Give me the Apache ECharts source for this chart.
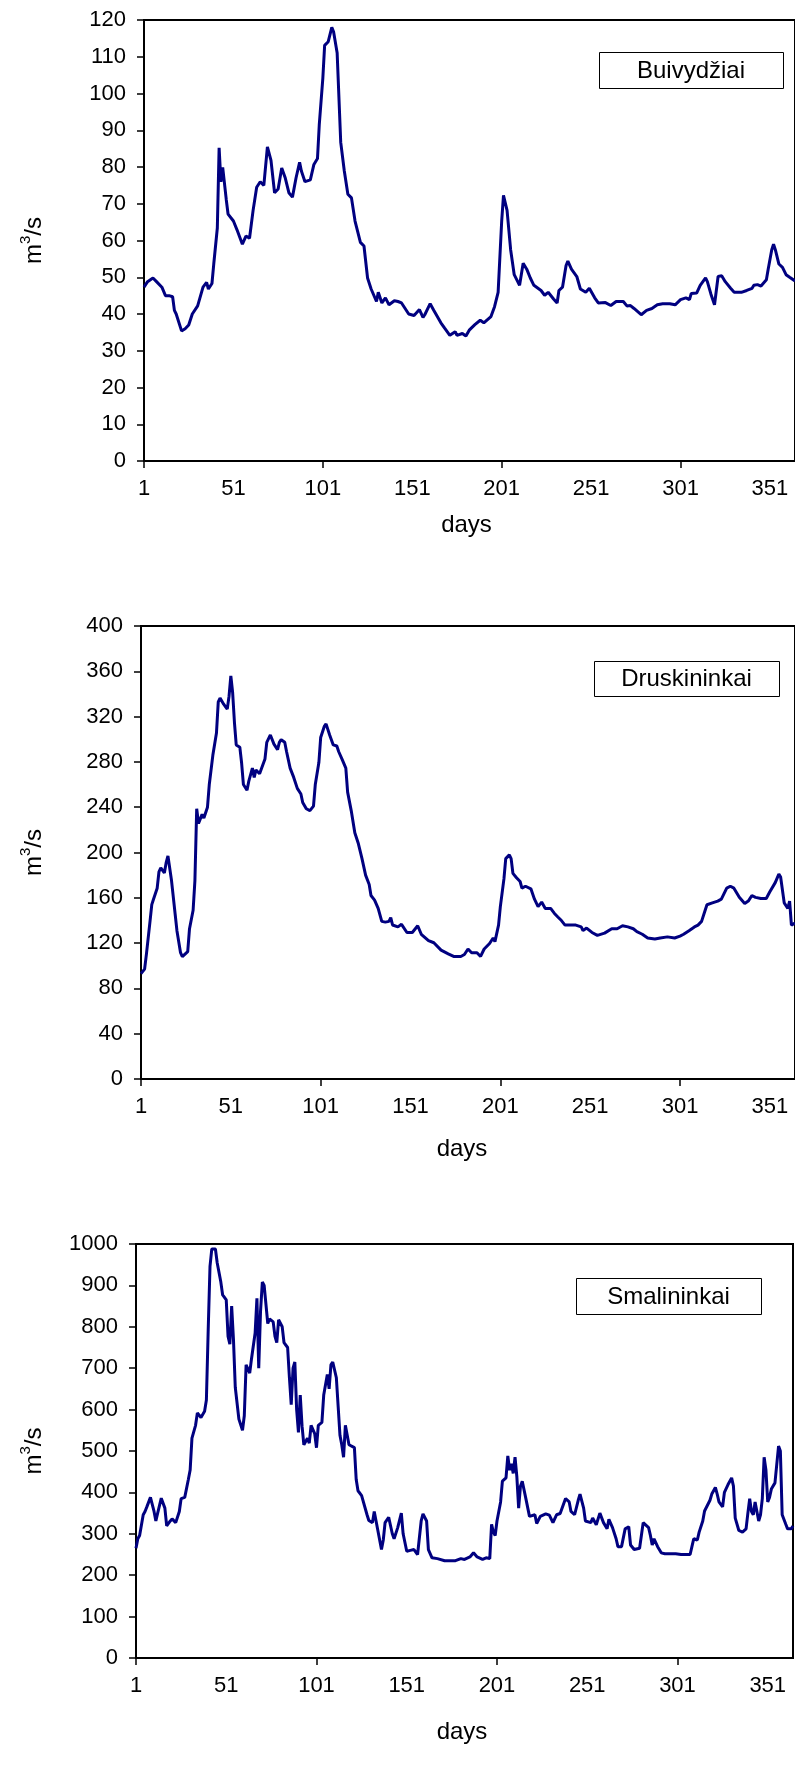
<!DOCTYPE html>
<html>
<head>
<meta charset="utf-8">
<script src="https://cdn.jsdelivr.net/npm/echarts@6/dist/echarts.min.js"></script>
<style>
  html, body { margin: 0; padding: 0; background: #fff; }
  #main { width: 795px; height: 1767px; }
</style>
</head>
<body>
<div id="main"></div>
<script>
const stations = ['Buivydžiai', 'Druskininkai', 'Smalininkai'];

const buivDays = [1,3,6,8,11,13,15,17,18,19,22,24,26,28,31,34,36,37,39,40,42,43,44,45,47,48,51,53,54,56,
  58,60,62,64,66,68,70,72,74,76,78,80,82,84,86,88,89,91,94,96,98,99,101,102,104,106,107,109,111,113,
  115,117,119,122,124,126,128,131,132,134,136,138,141,143,145,149,152,155,157,158,161,163,167,169,172,175,176,179,181,183,
  186,189,191,195,197,199,201,202,204,206,208,211,213,215,217,219,223,225,227,230,232,233,235,237,238,240,243,245,248,250,
  253,255,259,262,265,269,271,273,275,279,282,285,288,291,295,298,301,304,306,307,310,312,315,316,318,320,322,324,326,329,
  331,335,338,341,342,344,346,349,350,352,353,354,356,358,360,362,365];
const buivFlow = [47.3,48.8,49.8,48.8,47.3,45,45,44.7,41,40,35.4,36,37,40,42.2,47.3,48.6,46.8,48.3,53.6,
  63.4,85.2,76,79.9,71.1,67.2,65.3,62.9,63,59,61.2,60.6,68.2,74.5,76,75,85.5,81.8,73,74,
  79.7,77,73,71.8,77,81.3,78.9,76,76.5,80.7,82.3,91.5,104.2,113.1,114.1,118,116.8,111,86.7,78.9,
  72.6,71.6,65.3,59.5,58.5,49.8,46.8,43.4,45.9,43,44.4,42.5,43.6,43.4,43,40,39.6,41.2,39.1,39.8,
  42.8,41,37.6,36.2,34.2,35.2,34.2,34.7,34,35.7,37.1,38.3,37.6,39.3,42,45.9,65.3,72.3,68.2,57.5,
  50.7,47.8,53.8,52.2,49.8,47.8,46.4,45.1,45.9,44.1,43,46.4,47.3,53.2,54.4,52.2,50.2,46.8,45.9,47,
  44.4,43,43.1,42.3,43.4,43.4,42.2,42.3,41.5,39.8,41,41.5,42.5,42.8,42.8,42.5,43.9,44.4,43.9,45.6,
  45.7,47.8,49.8,48.8,45.4,42.5,50.2,50.4,48.8,47,45.9,45.9,46.4,47,47.8,48,47.6,49.3,52.2,57.5,
  59,57.5,53.6,52.7,50.7,50,49];

const druskDays = [1,3,4,6,7,8,10,11,12,14,15,16,18,20,21,23,24,27,28,30,31,32,33,35,36,38,39,41,43,44,
  45,47,49,50,51,52,53,54,56,57,58,60,61,63,64,65,67,68,70,71,73,74,75,77,78,79,81,82,84,86,
  88,90,91,93,95,97,98,100,101,103,104,106,108,110,111,113,115,116,118,120,122,124,126,128,129,131,133,135,137,139,
  140,141,144,146,149,152,155,157,161,164,168,172,175,179,181,183,185,188,190,192,195,197,198,200,201,203,204,206,207,208,
  210,212,213,215,218,220,222,224,226,229,231,233,235,237,239,243,246,247,249,252,255,259,263,266,269,272,275,277,280,283,
  287,290,294,298,301,303,306,309,311,313,315,316,319,322,324,327,329,331,334,337,339,341,343,346,349,351,354,356,357,359,
  361,362,363,365];
const druskFlow = [93,97,110,139,154,159,168.5,183,186.5,182,191,197,175,145.7,131,111.5,108,112.5,132.7,149,
  175,238.6,225.6,233.7,230.5,240,260,286,305.5,333,336.4,331,326.6,338,356,341.3,315,295,293,279,
  260,255,263,274.5,266.3,272.9,269.6,271.2,282.6,297.3,303.8,302.8,295.7,290.8,297.3,299.6,297.3,289.2,274.5,266.3,
  256.6,251.7,244.2,238.6,237,241,260,279.4,301.5,311.3,313.6,303.8,295,294,289.2,282,274.5,253.3,237,217.4,
  207.7,194.6,180,171.8,162,158,150.6,139.2,138.5,139.2,142.5,136,134.3,136.6,129.4,129.4,135.3,127.8,122.2,120.3,
  113.8,110.5,108.2,108.2,109.9,114.8,111.5,111.5,108.2,114.8,119.6,124.5,121.3,135.9,152.2,176.7,194.6,197.9,194.6,181.6,
  177.7,174.4,168.5,170.2,167.9,158.8,152.2,156.2,150.6,150.6,146.4,143.1,139.9,135.9,135.9,135.9,134.3,131,133.3,129.4,
  126.8,128.8,132.7,132.7,135.3,134.3,132.7,130.1,127.8,124.5,123.6,124.5,125.5,124.5,126.2,127.8,131,134.3,135.9,139.2,
  149,153.9,155.5,157.1,158.8,168.5,170.2,168.5,160.4,154.9,157.1,162,160.4,159.4,159.4,165.3,173.4,180.9,178.3,155.5,
  150.6,157.1,135.9,137.6];

const smalDays = [1,2,3,5,6,7,9,11,12,13,15,17,18,20,21,23,25,26,28,30,31,32,34,35,37,39,40,41,42,43,
  45,46,48,49,51,52,53,54,55,56,58,60,61,62,64,65,66,67,68,69,70,71,72,74,75,77,78,79,80,82,
  83,85,86,87,88,89,90,91,92,93,94,96,97,98,100,101,102,104,105,107,108,109,110,112,113,114,115,116,117,119,
  120,122,123,124,126,127,129,130,132,133,134,135,136,137,138,139,141,143,144,146,148,149,151,153,155,157,158,159,160,162,
  163,165,168,169,172,175,178,181,183,184,186,188,190,193,195,196,197,198,199,200,201,202,203,204,206,207,208,209,210,211,
  212,213,214,215,217,218,219,222,223,225,226,228,230,232,234,236,237,239,241,242,244,246,247,249,250,253,254,256,258,260,
  261,262,263,265,267,268,270,271,272,274,275,277,280,281,282,283,285,286,287,288,290,292,294,297,300,303,305,308,309,310,
  312,313,315,316,317,319,320,322,323,324,326,327,329,331,332,333,335,337,339,340,341,342,343,344,346,347,348,349,350,351,
  352,353,355,356,357,358,359,361,362,364,365];
const smalFlow = [265,288,296,346,354,365,388,354,331,350,386,362,319,331,336,327,354,385,388,431,
  454,531,562,592,581,596,623,792,946,988,988,954,908,877,865,777,758,850,769,654,
  577,550,585,708,688,723,727,785,869,700,838,908,900,808,819,812,777,762,817,800,
  762,750,677,612,700,715,600,545,635,560,515,531,519,562,542,508,562,569,635,685,
  650,708,715,677,608,538,515,485,562,515,512,508,431,404,392,388,346,332,327,354,
  331,327,285,262,285,327,340,300,288,315,350,300,258,260,262,250,250,331,348,331,
  262,242,240,238,235,235,235,240,238,240,244,254,244,238,242,238,240,323,304,296,
  331,354,377,427,435,488,454,469,446,485,438,362,415,427,385,388,342,346,325,342,
  342,348,345,327,346,349,345,385,377,354,346,381,396,362,331,327,338,322,350,327,
  331,312,335,315,288,269,269,271,312,317,273,262,265,296,327,331,315,296,273,288,
  269,254,252,252,252,250,250,250,269,288,285,304,331,355,354,381,396,412,396,377,
  365,400,419,435,415,338,308,304,312,350,385,354,346,377,331,346,385,485,454,377,
  388,408,423,427,512,500,346,323,312,312,319];

const dayLabels = [1, 51, 101, 151, 201, 251, 301, 351];
const dayTicks = [1, 101, 201, 301];
const yMax = [120, 400, 1000];
const yStep = [10, 40, 100];

const days = [buivDays, druskDays, smalDays];
const flows = [buivFlow, druskFlow, smalFlow];

const font = "'Liberation Sans', Arial, sans-serif";
const grids = [
  {left: 144, top: 20, width: 658, height: 441},
  {left: 141, top: 626, width: 657, height: 453},
  {left: 136, top: 1244, width: 657, height: 414}
];
const xNameGap = [52, 58, 62];
const xNameShift = [6, 12, 5];
const yNameGap = [94, 91, 86];
// legend boxes (x, y, w, h)
const boxes = [
  [599, 52, 184, 36],
  [594, 661, 185, 35],
  [576, 1278, 185, 36]
];

const chart = echarts.init(document.getElementById('main'));

let option = {
  animation: false,
  backgroundColor: '#fff',
  grid: grids.map(g => Object.assign({show: true, borderColor: '#000', borderWidth: 2, containLabel: false}, g)),
  xAxis: grids.map((g, i) => ({
    type: 'value',
    gridIndex: i,
    min: 1,
    max: 365,
    name: 'days',
    nameLocation: 'middle',
    nameGap: xNameGap[i],
    nameTextStyle: {color: '#000', fontSize: 24, fontFamily: font, padding: [0, xNameShift[i], 0, 0]},
    axisLine: {show: true, onZero: false, lineStyle: {color: '#000', width: 2}},
    axisTick: {show: true, customValues: dayTicks, length: 7, lineStyle: {color: '#000', width: 1.5}},
    axisLabel: {customValues: dayLabels, margin: 17, color: '#000', fontSize: 22, fontFamily: font},
    splitLine: {show: false}
  })),
  yAxis: grids.map((g, i) => ({
    type: 'value',
    gridIndex: i,
    min: 0,
    max: yMax[i],
    interval: yStep[i],
    name: '{m|m}{sup|3}{m|/s}',
    nameLocation: 'middle',
    nameRotate: 90,
    nameGap: yNameGap[i],
    nameTextStyle: {
      rich: {
        m: {fontSize: 24, lineHeight: 32, fontFamily: font, color: '#000'},
        sup: {fontSize: 15, lineHeight: 16, fontFamily: font, color: '#000', verticalAlign: 'top'}
      }
    },
    axisLine: {show: true, onZero: false, lineStyle: {color: '#000', width: 2}},
    axisTick: {show: true, length: 7, lineStyle: {color: '#000', width: 1.5}},
    axisLabel: {margin: 18, color: '#000', fontSize: 22, fontFamily: font, formatter: v => String(v)},
    splitLine: {show: false}
  })),
  graphic: boxes.map((b, i) => ({
    type: 'group',
    children: [
      {type: 'rect', shape: {x: b[0] + 0.5, y: b[1] + 0.5, width: b[2], height: b[3]},
       style: {fill: '#fff', stroke: '#000', lineWidth: 1}},
      {type: 'text', x: b[0] + b[2] / 2, y: b[1] + b[3] / 2 + 1,
       style: {text: stations[i], align: 'center', verticalAlign: 'middle',
               fontSize: 24, fontFamily: font, fill: '#000'}}
    ]
  })),
  series: stations.map((name, i) => ({
    name: name,
    type: 'line',
    xAxisIndex: i,
    yAxisIndex: i,
    showSymbol: false,
    symbol: 'none',
    lineStyle: {color: '#000080', width: 3},
    data: days[i].map((d, k) => [d, flows[i][k]])
  }))
};

chart.setOption(option);
</script>
</body>
</html>
